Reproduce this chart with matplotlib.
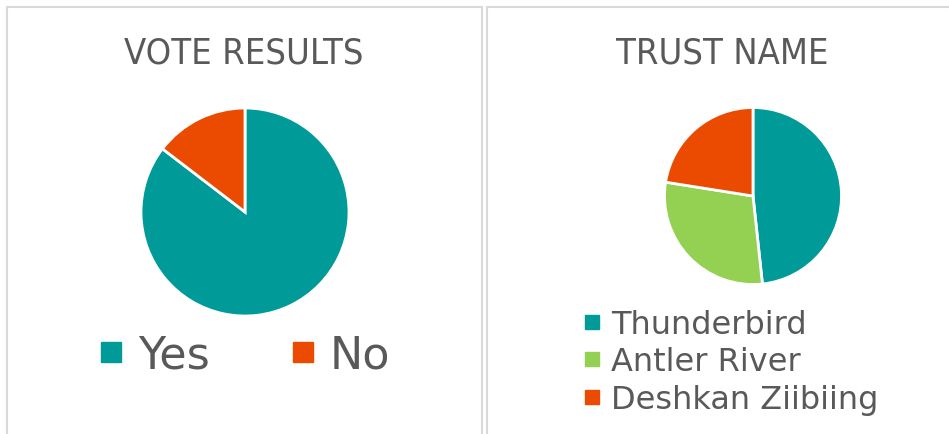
import matplotlib
matplotlib.use("Agg")
import matplotlib.pyplot as plt
from matplotlib.patches import Rectangle
from matplotlib.lines import Line2D

W, H = 949, 435

vote_labels = ["Yes", "No"]
vote_values = [85.4, 14.6]
vote_colors = ["#009A99", "#EA4B00"]

trust_labels = ["Thunderbird", "Antler River", "Deshkan Ziibiing"]
trust_values = [48.3, 29.2, 22.5]
trust_colors = ["#009A99", "#94D152", "#EA4B00"]

TEXT = "#595959"
GRID = "#D9D9D9"


def fx(x):
    return x / W


def fy(y):
    return 1 - y / H


fig = plt.figure(figsize=(W / 100, H / 100), dpi=100)
fig.patch.set_facecolor("white")

# panel borders
for x0, x1 in [(7, 482), (487, 960)]:
    fig.patches.append(Rectangle((fx(x0), fy(450)), fx(x1 - x0), (450 - 8) / H,
                                 transform=fig.transFigure, fill=False,
                                 edgecolor=GRID, linewidth=1.5))


def pie_axes(cx, cy, r):
    return fig.add_axes([fx(cx - r), fy(cy + r), 2 * r / W, 2 * r / H])


def draw_pie(ax, values, colors):
    ax.pie(values, colors=colors, startangle=90, counterclock=False,
           radius=1, wedgeprops=dict(edgecolor="white", linewidth=2))
    ax.set_xlim(-1, 1)
    ax.set_ylim(-1, 1)
    ax.axis("off")


# vote results
ax1 = pie_axes(245, 213, 104)
draw_pie(ax1, vote_values, vote_colors)
fig.text(fx(244), fy(53), "VOTE RESULTS", ha="center", va="center",
         fontsize=26, color=TEXT, family="DejaVu Sans", stretch="condensed",
         weight="light")

h1 = [Line2D([], [], marker="s", linestyle="", markersize=15, color=c) for c in vote_colors]
fig.legend(h1, vote_labels, loc="center left", bbox_to_anchor=(fx(98), fy(356)),
           ncol=2, frameon=False, fontsize=32, labelcolor=TEXT,
           handlelength=0.6, handletextpad=0.3, columnspacing=1.8, borderpad=0,
           borderaxespad=0)

# trust name
ax2 = pie_axes(753, 197, 88.5)
draw_pie(ax2, trust_values, trust_colors)
fig.text(fx(722), fy(53), "TRUST NAME", ha="center", va="center",
         fontsize=26, color=TEXT, family="DejaVu Sans", stretch="condensed",
         weight="light")

h2 = [Line2D([], [], marker="s", linestyle="", markersize=10, color=c) for c in trust_colors]
fig.legend(h2, trust_labels, loc="center left", bbox_to_anchor=(fx(582), fy(363)),
           ncol=1, frameon=False, fontsize=23, labelcolor=TEXT,
           handlelength=0.6, handletextpad=0.3, labelspacing=0.2, borderpad=0,
           borderaxespad=0)

fig.savefig("out.png", dpi=100)
